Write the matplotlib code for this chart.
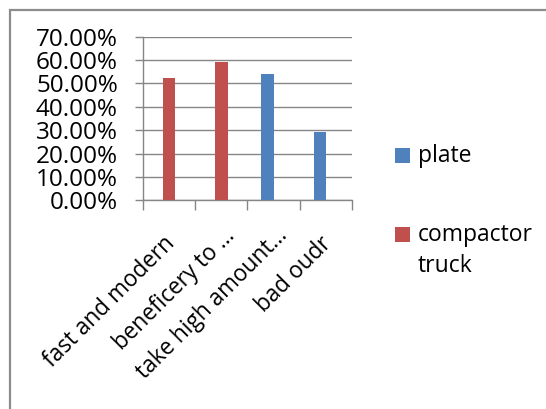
import matplotlib
matplotlib.use("Agg")
import matplotlib.pyplot as plt
from matplotlib.patches import Rectangle
import matplotlib.transforms as mtransforms

categories = ["fast and modern", "beneficery to …", "take high amount…", "bad oudr"]
series_names = ["plate", "compactor\ntruck"]
plate = [0.0, 0.0, 0.540, 0.294]
compactor = [0.522, 0.591, 0.0, 0.0]
yticks = [0.0, 0.1, 0.2, 0.3, 0.4, 0.5, 0.6, 0.7]
ytick_labels = ["0.00%", "10.00%", "20.00%", "30.00%", "40.00%", "50.00%", "60.00%", "70.00%"]

BLUE = "#4F81BD"
RED = "#C0504D"
GRID = "#868686"

plt.rcParams['font.family'] = ['Open Sans', 'DejaVu Sans']
FSY = 17.5
FSX = 16.3
FSL = 16.5

W, H = 546, 409
fig = plt.figure(figsize=(W / 100, H / 100), dpi=100)

# outer chart border
fig.patches.append(Rectangle((9.5 / W, -0.1), 1.2, 1 - 9.5 / H + 0.1, transform=fig.transFigure,
                             fill=False, edgecolor="#8c8c8c", linewidth=1.6, zorder=0))

ax = fig.add_axes([143 / W, 1 - 200.3 / H, (352 - 143) / W, (200.3 - 36.7) / H])
x = list(range(len(categories)))
bw = 0.235
ax.bar([i - bw for i in x], plate, width=bw, color=BLUE, zorder=3, align='edge')
ax.bar([i for i in x], compactor, width=bw, color=RED, zorder=3, align='center')

ax.set_xlim(-0.5, len(categories) - 0.5)
ax.set_ylim(0, 0.7)
ax.set_yticks(yticks)
ax.set_yticklabels(ytick_labels, fontsize=FSY)
ax.yaxis.grid(True, color=GRID, linewidth=1.0, zorder=0)
ax.set_axisbelow(True)

for s in ["top", "right"]:
    ax.spines[s].set_visible(False)
for s in ["left", "bottom"]:
    ax.spines[s].set_color(GRID)
    ax.spines[s].set_linewidth(1.0)

ax.tick_params(axis='y', direction='out', length=6, width=1.0, color=GRID, pad=12)
ax.set_xticks([i - 0.5 for i in range(len(categories) + 1)])
ax.set_xticklabels([])
ax.tick_params(axis='x', direction='out', length=7, width=1.0, color=GRID)

trans = ax.get_xaxis_transform()
for i, lab in enumerate(categories):
    extra = 8 if lab.endswith('…') else 0
    off = mtransforms.offset_copy(trans, fig=fig, x=2 + extra, y=-40 + extra, units='dots')
    ax.text(i, 0, lab, transform=off, rotation=45, rotation_mode='anchor',
            ha='right', va='center', fontsize=FSX)

# legend
leg_items = [(BLUE, series_names[0], 148), (RED, series_names[1], 227)]
for col, name, ytop in leg_items:
    fig.patches.append(Rectangle((395 / W, 1 - (ytop + 15) / H), 15 / W, 15 / H,
                                 transform=fig.transFigure, facecolor=col, edgecolor='none'))
    fig.text(418 / W, 1 - (ytop - 4) / H, name, fontsize=FSL, ha='left', va='top',
             linespacing=1.4)

fig.savefig("out.png", dpi=100)
